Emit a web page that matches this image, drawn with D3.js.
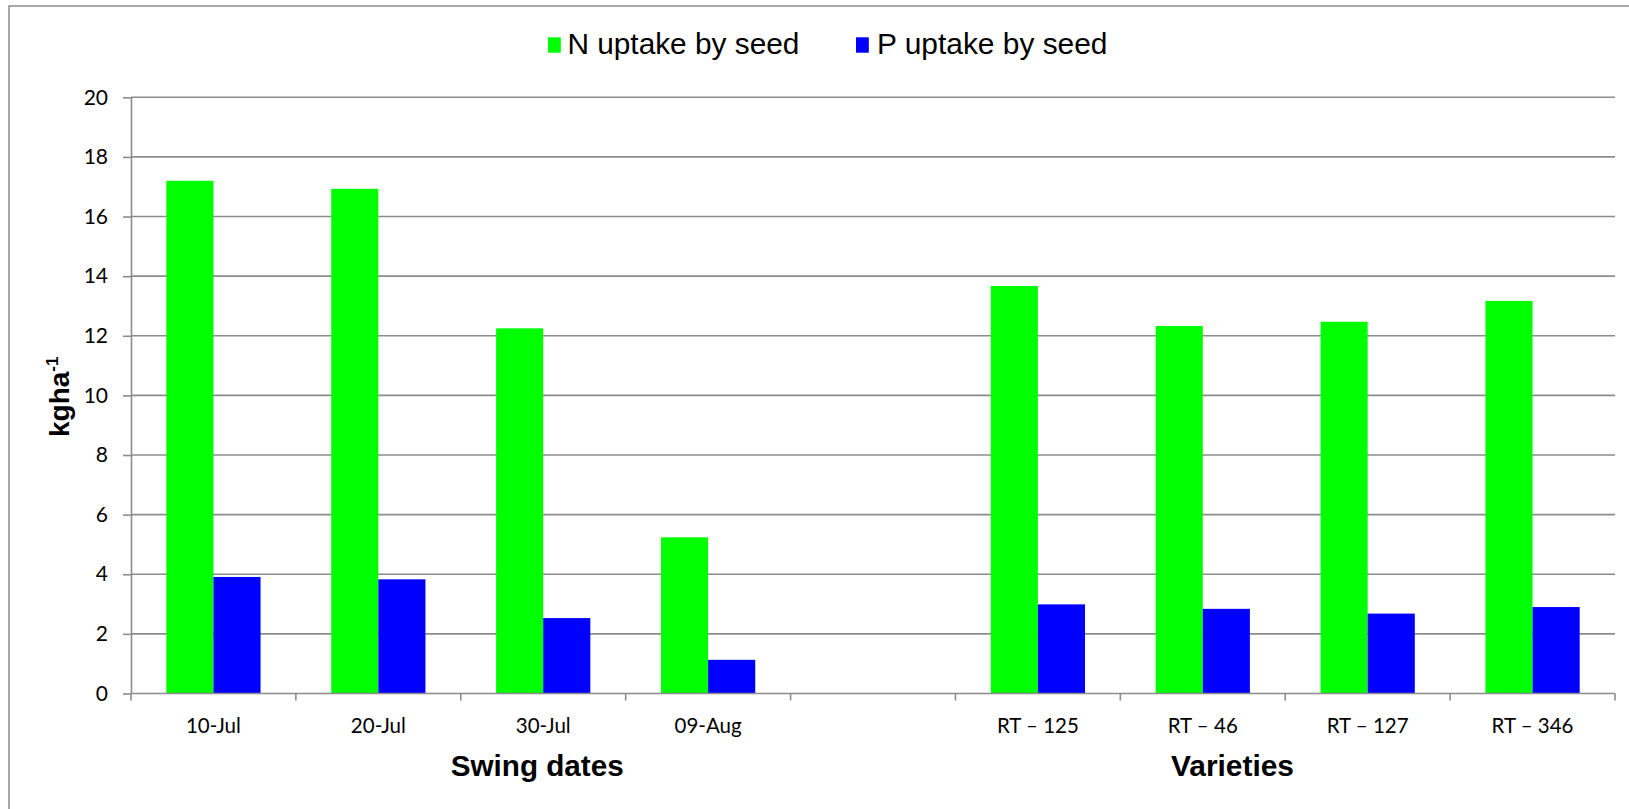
<!DOCTYPE html>
<html>
<head>
<meta charset="utf-8">
<script src="https://cdn.jsdelivr.net/npm/d3@7"></script>
<style>
  html, body { margin: 0; padding: 0; background: #fff; }
  svg { display: block; }
</style>
</head>
<body>
<svg id="chart" width="1629" height="809"></svg>
<script>
// Categories: four sowing dates, an empty spacer slot, four varieties
const categories = ["10-Jul", "20-Jul", "30-Jul", "09-Aug", "", "RT – 125", "RT – 46", "RT – 127", "RT – 346"];
const seriesNames = ["N uptake by seed", "P uptake by seed"];
const nUptake = [17.2, 16.93, 12.25, 5.24, null, 13.67, 12.33, 12.47, 13.17];
const pUptake = [3.91, 3.83, 2.53, 1.13, null, 2.99, 2.84, 2.68, 2.90];
const yTicks = [0, 2, 4, 6, 8, 10, 12, 14, 16, 18, 20];
const groupTitles = ["Swing dates", "Varieties"];
const colors = ["#00ff00", "#0000ff"];

const svg = d3.select("#chart");
const gridColor = "#8c8c8c";

const plot = { left: 131, right: 1615, top: 97.3, bottom: 693.5 };

const x = d3.scaleBand().domain(categories).range([plot.left, plot.right]).paddingInner(0).paddingOuter(0);
const xSub = d3.scaleBand().domain(seriesNames).range([0, x.bandwidth()]).paddingInner(0).paddingOuter(0.75);
const y = d3.scaleLinear().domain([0, 20]).range([plot.bottom, plot.top]);

// Outer chart frame (left and top edges)
svg.append("path")
  .attr("d", `M9,809 L9,6 L1629,6`)
  .attr("fill", "none").attr("stroke", gridColor).attr("stroke-width", 1.5);

// Horizontal gridlines
svg.append("g").selectAll("line")
  .data(yTicks.filter(d => d > 0))
  .join("line")
  .attr("x1", plot.left).attr("x2", plot.right)
  .attr("y1", d => y(d)).attr("y2", d => y(d))
  .attr("stroke", gridColor).attr("stroke-width", 1.6);

// Bars
const rows = categories.map((c, i) => ({ cat: c, vals: [nUptake[i], pUptake[i]] }));
const groups = svg.append("g").selectAll("g")
  .data(rows)
  .join("g")
  .attr("transform", d => `translate(${x(d.cat)},0)`);
groups.selectAll("rect")
  .data(d => d.vals.map((v, j) => ({ key: seriesNames[j], v, j })).filter(e => e.v != null))
  .join("rect")
  .attr("x", d => xSub(d.key))
  .attr("width", xSub.bandwidth())
  .attr("y", d => y(d.v))
  .attr("height", d => y(0) - y(d.v))
  .attr("fill", d => colors[d.j]);

// Y axis
const yAxis = d3.axisLeft(y).tickValues(yTicks).tickSize(8).tickPadding(15).tickSizeOuter(0);
const gy = svg.append("g").attr("transform", `translate(${plot.left},0)`).call(yAxis);
gy.select(".domain").attr("stroke", gridColor).attr("stroke-width", 1.6);
gy.selectAll(".tick line").attr("stroke", gridColor).attr("stroke-width", 1.6);
gy.selectAll(".tick text")
  .attr("fill", "#000")
  .style("font-family", "Lato, 'Open Sans', sans-serif")
  .style("font-size", "21px");

// X axis line with tick marks between categories
svg.append("line")
  .attr("x1", plot.left).attr("x2", plot.right)
  .attr("y1", y(0)).attr("y2", y(0))
  .attr("stroke", gridColor).attr("stroke-width", 1.6);
const boundaries = categories.map(c => x(c)).concat([plot.right]);
svg.append("g").selectAll("line")
  .data(boundaries)
  .join("line")
  .attr("x1", d => d).attr("x2", d => d)
  .attr("y1", y(0)).attr("y2", y(0) + 7)
  .attr("stroke", gridColor).attr("stroke-width", 1.6);

// Category labels
svg.append("g").selectAll("text")
  .data(categories.filter(c => c !== ""))
  .join("text")
  .attr("x", d => x(d) + x.bandwidth() / 2)
  .attr("y", 732.5)
  .attr("text-anchor", "middle")
  .style("font-family", "Lato, 'Open Sans', sans-serif")
  .style("font-size", "20.5px")
  .attr("fill", "#000")
  .text(d => d);

// Group titles below the axis
const titlePos = [{ x: 450.7, len: 173 }, { x: 1171, len: 123 }];
svg.append("g").selectAll("text")
  .data(groupTitles)
  .join("text")
  .attr("x", (d, i) => titlePos[i].x)
  .attr("y", 775.5)
  .attr("textLength", (d, i) => titlePos[i].len)
  .attr("lengthAdjust", "spacingAndGlyphs")
  .style("font-family", "'Liberation Sans', Arial, sans-serif")
  .style("font-weight", "bold")
  .style("font-size", "29px")
  .attr("fill", "#000")
  .text(d => d);

// Y axis title: kg ha^-1
const yt = svg.append("text")
  .attr("transform", "translate(68.5,437) rotate(-90)")
  .style("font-family", "'Liberation Sans', Arial, sans-serif")
  .style("font-weight", "bold")
  .style("font-size", "28px")
  .attr("fill", "#000");
yt.append("tspan").text("kgha");
yt.append("tspan").attr("dy", -11).style("font-size", "17px").text("-1");

// Legend
const legendPos = [{ sx: 548, tx: 567.4, len: 232 }, { sx: 856, tx: 877, len: 230.5 }];
const lg = svg.append("g").selectAll("g")
  .data(seriesNames)
  .join("g");
lg.append("rect")
  .attr("x", (d, i) => legendPos[i].sx)
  .attr("y", 37.3)
  .attr("width", 12.8)
  .attr("height", 15.4)
  .attr("fill", (d, i) => colors[i]);
lg.append("text")
  .attr("x", (d, i) => legendPos[i].tx)
  .attr("y", 54.3)
  .attr("textLength", (d, i) => legendPos[i].len)
  .attr("lengthAdjust", "spacingAndGlyphs")
  .style("font-family", "'Liberation Sans', Arial, sans-serif")
  .style("font-size", "29px")
  .attr("fill", "#000")
  .text(d => d);
</script>
</body>
</html>
